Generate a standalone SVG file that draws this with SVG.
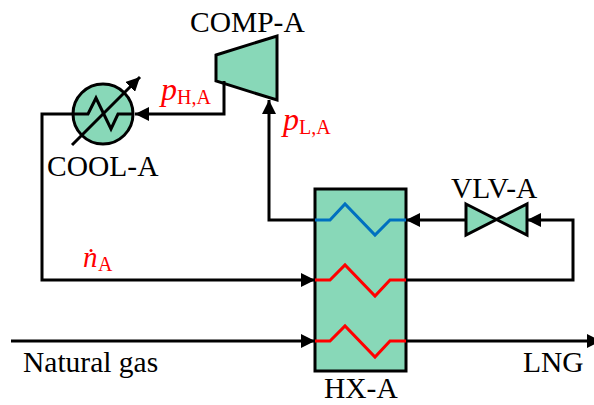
<svg xmlns="http://www.w3.org/2000/svg" width="594" height="405" viewBox="0 0 594 405">
<style>
.f{fill:#88d8b8;stroke:#000;stroke-width:3;stroke-linejoin:miter}
.l{fill:none;stroke:#000;stroke-width:3;stroke-linejoin:miter}
.r{fill:none;stroke:#f00;stroke-width:3}
.b{fill:none;stroke:#0070c0;stroke-width:3}
text{font-family:"Liberation Serif","Times New Roman",serif;font-size:29.500px;fill:#000}
.v{fill:#f00}
.i{font-style:italic;font-size:32px}
.n{font-style:italic;font-size:29px}
.s{font-size:20px}
</style>
<defs>
<marker id="a" markerUnits="userSpaceOnUse" markerWidth="14" markerHeight="14" refX="14" refY="7" orient="auto"><path d="M0 0L14 7L0 14Z" fill="#000"/></marker>
</defs>
<g id="COOL-A">
<circle class="f" cx="103" cy="114" r="30"/>
<text x="47" y="176">COOL-A</text>
</g>
<g id="COMP-A">
<path class="f" d="M216 55L277 36V100L216 81Z"/>
<text x="190" y="32">COMP-A</text>
</g>
<g id="VLV-A">
<path class="f" d="M466 204L527 235V204L466 235Z"/>
<text x="451" y="198">VLV-A</text>
</g>
<g id="HX-A">
<rect class="f" x="315" y="189" width="91" height="182"/>
<text x="324" y="398">HX-A</text>
</g>
<g id="connectors">
<path class="l" d="M224 81V114H135" marker-end="url(#a)"/>
<path class="l" d="M134 114H118L111 129L96 98L88 114H42V280H315" marker-end="url(#a)"/>
<path class="l" d="M72 145L140 77" marker-end="url(#a)"/>
<path class="l" d="M315 220H269V100" marker-end="url(#a)"/>
<path class="l" d="M466 220H406" marker-end="url(#a)"/>
<path class="l" d="M406 280H573V220H527" marker-end="url(#a)"/>
<path class="l" d="M11 341H315" marker-end="url(#a)"/>
<path class="l" d="M406 341H601" marker-end="url(#a)"/>
<path class="b" d="M315 220H330L345 204L375 235L390 220H406"/>
<path class="r" d="M315 280H330L345 265L375 296L390 280H406"/>
<path class="r" d="M315 341H330L345 326L375 357L390 341H406"/>
</g>
<g id="labels">
<text class="v" x="161" y="100"><tspan class="i">p</tspan><tspan class="s" dy="4">H,A</tspan></text>
<text class="v" x="283" y="130"><tspan class="i">p</tspan><tspan class="s" dy="4">L,A</tspan></text>
<text class="v n" x="83" y="267">n</text>
<circle cx="91" cy="250.500" r="1.500" fill="#f00"/>
<text class="v s" x="98" y="271">A</text>
<text x="23" y="372">Natural gas</text>
<text x="523" y="372">LNG</text>
</g>
</svg>
